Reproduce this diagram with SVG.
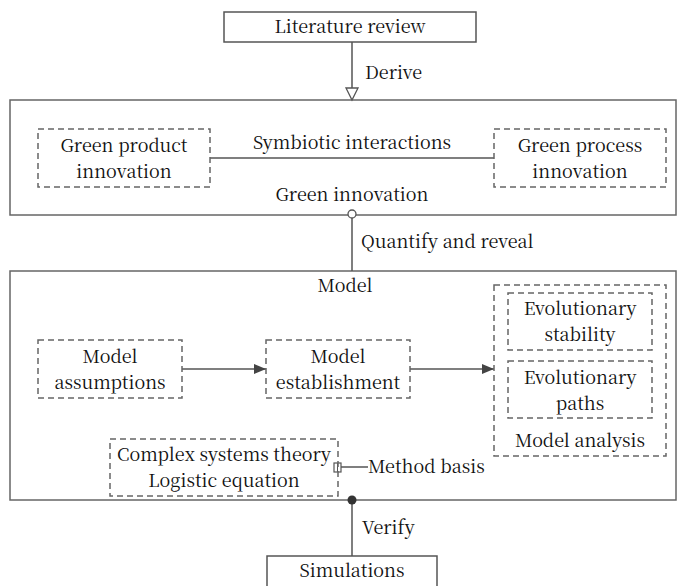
<svg xmlns="http://www.w3.org/2000/svg" width="686" height="586" viewBox="0 0 686 586" font-family="Noto Serif CJK SC, Liberation Serif, serif">
<style>
text{font-size:18px;fill:#111}
.c{text-anchor:middle}
.solid{fill:#fff;stroke:#555;stroke-width:1.5}
.frame{fill:none;stroke:#666;stroke-width:1.5}
.dash{fill:none;stroke:#666;stroke-width:1.5;stroke-dasharray:6 4}
.ln{stroke:#555;stroke-width:1.5;fill:none}
</style>
<defs>
<marker id="arr" markerWidth="12" markerHeight="10" refX="12" refY="5" orient="auto" markerUnits="userSpaceOnUse">
<path d="M0,0 L12,5 L0,10 Z" fill="#444"/>
</marker>
</defs>
<g id="containers">
<rect id="green-innovation" class="frame" x="10" y="100" width="666" height="115"/>
<rect id="model" class="frame" x="10" y="271" width="666" height="229"/>
</g>
<g id="connectors">
<line class="ln" x1="352" y1="42" x2="352" y2="88"/>
<polygon points="346,88 358,88 352,100" fill="#fff" stroke="#555" stroke-width="1.3"/>
<line class="ln" x1="210" y1="158" x2="494" y2="158"/>
<line class="ln" x1="352" y1="218" x2="352" y2="271"/>
<circle cx="352" cy="214" r="4" fill="#fff" stroke="#555" stroke-width="1.3"/>
<line class="ln" x1="182" y1="369" x2="266" y2="369" marker-end="url(#arr)"/>
<line class="ln" x1="410" y1="369" x2="494" y2="369" marker-end="url(#arr)"/>
<line class="ln" x1="341" y1="467" x2="368" y2="467"/>
<rect x="334" y="463" width="7" height="9" fill="#fff" stroke="#555" stroke-width="1.2"/>
<line x1="337.5" y1="463" x2="337.5" y2="472" stroke="#555" stroke-width="1"/>
<line class="ln" x1="352" y1="500" x2="352" y2="556"/>
<circle cx="352" cy="500" r="4.5" fill="#333"/>
</g>
<g id="literature-review">
<rect class="solid" x="224" y="12" width="252" height="30"/>
<text class="c" x="350" y="33">Literature review</text>
</g>
<text x="365" y="79">Derive</text>
<g id="green-product">
<rect class="dash" x="38" y="129" width="172" height="58"/>
<text class="c" x="124" y="152">Green product</text>
<text class="c" x="124" y="178">innovation</text>
</g>
<g id="green-process">
<rect class="dash" x="494" y="129" width="172" height="58"/>
<text class="c" x="580" y="152">Green process</text>
<text class="c" x="580" y="178">innovation</text>
</g>
<text class="c" x="352" y="149">Symbiotic interactions</text>
<text class="c" x="352" y="201">Green innovation</text>
<text x="361" y="248">Quantify and reveal</text>
<text class="c" x="345" y="292">Model</text>
<g id="model-assumptions">
<rect class="dash" x="38" y="340" width="144" height="58"/>
<text class="c" x="110" y="363">Model</text>
<text class="c" x="110" y="389">assumptions</text>
</g>
<g id="model-establishment">
<rect class="dash" x="266" y="340" width="144" height="58"/>
<text class="c" x="338" y="363">Model</text>
<text class="c" x="338" y="389">establishment</text>
</g>
<g id="model-analysis">
<rect class="dash" x="494" y="285" width="172" height="171"/>
<text class="c" x="580" y="447">Model analysis</text>
</g>
<g id="evolutionary-stability">
<rect class="dash" x="508" y="293" width="144" height="57"/>
<text class="c" x="580" y="315">Evolutionary</text>
<text class="c" x="580" y="341">stability</text>
</g>
<g id="evolutionary-paths">
<rect class="dash" x="508" y="361" width="144" height="57"/>
<text class="c" x="580" y="384">Evolutionary</text>
<text class="c" x="580" y="410">paths</text>
</g>
<g id="method-basis">
<rect class="dash" x="110" y="439" width="228" height="57"/>
<text class="c" x="224" y="461">Complex systems theory</text>
<text class="c" x="224" y="487">Logistic equation</text>
</g>
<text x="368" y="473">Method basis</text>
<text x="362" y="534">Verify</text>
<g id="simulations">
<rect class="solid" x="267" y="556" width="170" height="34"/>
<text class="c" x="352" y="577">Simulations</text>
</g>
</svg>
